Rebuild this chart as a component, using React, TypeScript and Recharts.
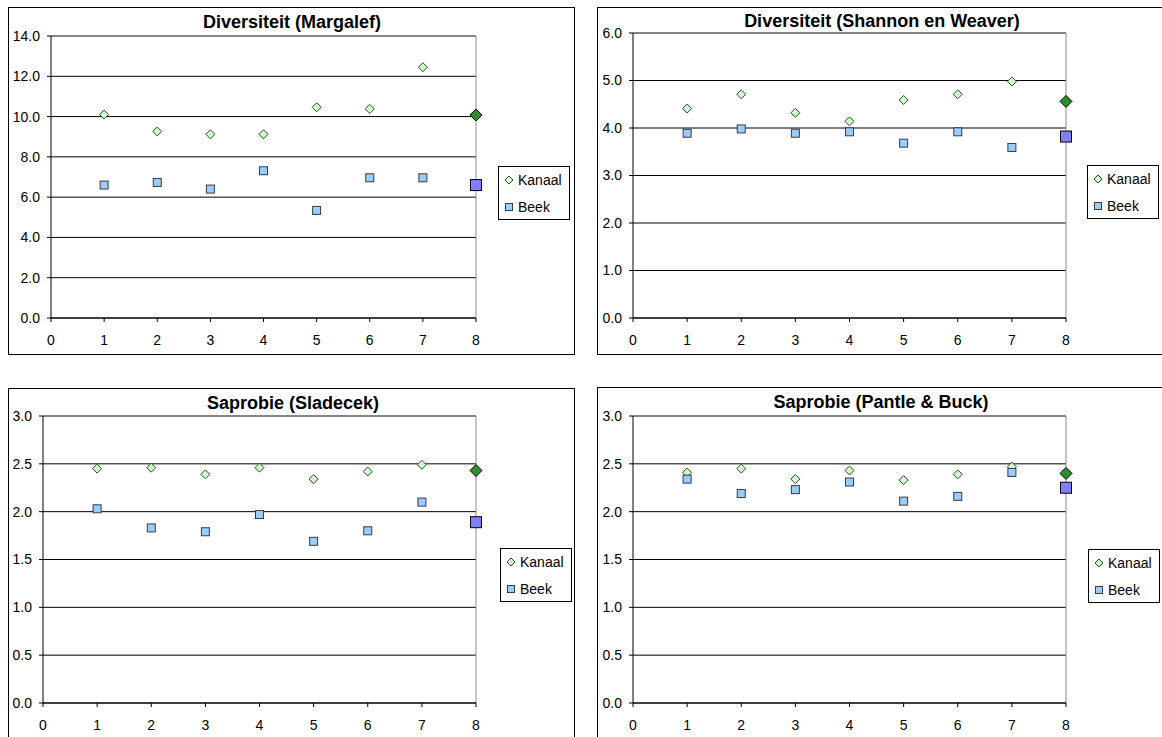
import React from 'react';
import { ScatterChart, Scatter, XAxis, YAxis, CartesianGrid, ReferenceLine, Legend } from 'recharts';

const stations = [1, 2, 3, 4, 5, 6, 7, 8];
const xTicks = [0, 1, 2, 3, 4, 5, 6, 7, 8];
const seriesNames = ['Kanaal', 'Beek'];

const margalefKanaal = [10.1, 9.26, 9.12, 9.12, 10.46, 10.38, 12.45, 10.08];
const margalefBeek = [6.6, 6.73, 6.4, 7.31, 5.34, 6.96, 6.96, 6.6];
const margalefTicks = [0, 2, 4, 6, 8, 10, 12, 14];

const shannonKanaal = [4.41, 4.71, 4.32, 4.14, 4.59, 4.71, 4.98, 4.56];
const shannonBeek = [3.89, 3.98, 3.89, 3.92, 3.68, 3.92, 3.59, 3.82];
const shannonTicks = [0, 1, 2, 3, 4, 5, 6];

const sladecekKanaal = [2.45, 2.46, 2.39, 2.46, 2.34, 2.42, 2.49, 2.43];
const sladecekBeek = [2.03, 1.83, 1.79, 1.97, 1.69, 1.8, 2.1, 1.89];
const saprobieTicks = [0, 0.5, 1, 1.5, 2, 2.5, 3];

const pantleKanaal = [2.41, 2.45, 2.34, 2.43, 2.33, 2.39, 2.47, 2.4];
const pantleBeek = [2.34, 2.19, 2.23, 2.31, 2.11, 2.16, 2.41, 2.25];

const highlightStation = 8;
const FONT = '"Liberation Sans", Arial, sans-serif';

const toPoints = (vals: number[]) => stations.map((s, i) => ({ x: s, y: vals[i] }));

const KanaalShape = (props: any) => {
  const { cx, cy, payload } = props;
  if (cx == null || cy == null) return null;
  const hl = payload && payload.x === highlightStation;
  const r = hl ? 6 : 4.5;
  return (
    <polygon
      points={`${cx},${cy - r} ${cx + r},${cy} ${cx},${cy + r} ${cx - r},${cy}`}
      fill={hl ? '#2F8F2F' : '#CCFFCC'}
      stroke={hl ? '#000' : '#3C3C3C'}
      strokeWidth={1}
    />
  );
};

const BeekShape = (props: any) => {
  const { cx, cy, payload } = props;
  if (cx == null || cy == null) return null;
  const hl = payload && payload.x === highlightStation;
  const s = hl ? 11 : 8;
  return (
    <rect
      x={cx - s / 2}
      y={cy - s / 2}
      width={s}
      height={s}
      fill={hl ? '#7F7FFF' : '#99CCFF'}
      stroke={hl ? '#000' : '#3C3C3C'}
      strokeWidth={1}
    />
  );
};

const LegendBox = () => (
  <div
    style={{
      width: 72,
      height: 54,
      border: '1px solid #000',
      boxSizing: 'border-box',
      background: '#fff',
      fontFamily: FONT,
      fontSize: 14,
      color: '#000',
      position: 'relative',
    }}
  >
    <div style={{ position: 'absolute', left: 4, top: 4, display: 'flex', alignItems: 'center', height: 18 }}>
      <svg width={12} height={12} style={{ marginRight: 3 }}>
        <polygon points="6,2 10,6 6,10 2,6" fill="#CCFFCC" stroke="#3C3C3C" strokeWidth={1} />
      </svg>
      <span>{seriesNames[0]}</span>
    </div>
    <div style={{ position: 'absolute', left: 4, top: 31, display: 'flex', alignItems: 'center', height: 18 }}>
      <svg width={12} height={12} style={{ marginRight: 3 }}>
        <rect x={2.5} y={2.5} width={7} height={7} fill="#99CCFF" stroke="#3C3C3C" strokeWidth={1} />
      </svg>
      <span>{seriesNames[1]}</span>
    </div>
  </div>
);

type PanelProps = {
  title: string;
  kanaal: number[];
  beek: number[];
  yTicks: number[];
  box: { left: number; top: number; width: number; height: number };
  plot: { left: number; right: number; top: number };
  titleCenter: { x: number; y: number };
  legendPos: { left: number; top: number };
};

const Panel = ({ title, kanaal, beek, yTicks, box, plot, titleCenter, legendPos }: PanelProps) => {
  const cw = box.width - 2;
  const ch = box.height - 2;
  const yMax = yTicks[yTicks.length - 1];
  const tickStyle = { fill: '#000', fontSize: 14, fontFamily: FONT };
  return (
    <div
      style={{
        position: 'absolute',
        left: box.left,
        top: box.top,
        width: box.width,
        height: box.height,
        border: '1px solid #000',
        boxSizing: 'border-box',
        background: '#fff',
      }}
    >
      <div
        style={{
          position: 'absolute',
          left: titleCenter.x - box.left - 1 - 200,
          width: 400,
          top: titleCenter.y - box.top - 1 - 11,
          height: 22,
          lineHeight: '22px',
          textAlign: 'center',
          fontFamily: FONT,
          fontWeight: 'bold',
          fontSize: 18,
          color: '#000',
          whiteSpace: 'nowrap',
        }}
      >
        {title}
      </div>
      <ScatterChart
        width={cw}
        height={ch}
        margin={{ top: plot.top, right: cw - plot.right, left: 0, bottom: 6 }}
        style={{ fontFamily: FONT }}
      >
        <CartesianGrid vertical={false} stroke="#000" strokeWidth={1} />
        <XAxis
          type="number"
          dataKey="x"
          domain={[0, 8]}
          ticks={xTicks}
          interval={0}
          height={30}
          stroke="#000"
          tickSize={4}
          tickMargin={13}
          tick={tickStyle}
          allowDecimals={false}
        />
        <YAxis
          type="number"
          dataKey="y"
          domain={[0, yMax]}
          ticks={yTicks}
          interval={0}
          width={plot.left}
          stroke="#000"
          tickSize={4}
          tickMargin={7}
          tick={tickStyle}
          tickFormatter={(v: number) => v.toFixed(1)}
        />
        <ReferenceLine y={yMax} stroke="#8C8C8C" strokeWidth={1} />
        <ReferenceLine x={8} stroke="#8C8C8C" strokeWidth={1} />
        <Legend
          layout="vertical"
          align="center"
          verticalAlign="middle"
          content={() => <LegendBox />}
          wrapperStyle={{ left: legendPos.left - box.left - 1, top: legendPos.top - box.top - 1, width: 72, height: 54 }}
        />
        <Scatter name={seriesNames[0]} data={toPoints(kanaal)} shape={KanaalShape} isAnimationActive={false} />
        <Scatter name={seriesNames[1]} data={toPoints(beek)} shape={BeekShape} isAnimationActive={false} />
      </ScatterChart>
    </div>
  );
};

export default function App() {
  return (
    <div
      style={{
        position: 'absolute',
        left: 0,
        top: 0,
        width: 1162,
        height: 737,
        overflow: 'hidden',
        background: '#fff',
      }}
    >
      <Panel
        title="Diversiteit (Margalef)"
        kanaal={margalefKanaal}
        beek={margalefBeek}
        yTicks={margalefTicks}
        box={{ left: 8, top: 7, width: 567, height: 348 }}
        plot={{ left: 42, right: 467, top: 28 }}
        titleCenter={{ x: 292, y: 22 }}
        legendPos={{ left: 498, top: 166 }}
      />
      <Panel
        title="Diversiteit (Shannon en Weaver)"
        kanaal={shannonKanaal}
        beek={shannonBeek}
        yTicks={shannonTicks}
        box={{ left: 597, top: 7, width: 570, height: 348 }}
        plot={{ left: 35, right: 468, top: 25 }}
        titleCenter={{ x: 882, y: 21 }}
        legendPos={{ left: 1087, top: 165 }}
      />
      <Panel
        title="Saprobie (Sladecek)"
        kanaal={sladecekKanaal}
        beek={sladecekBeek}
        yTicks={saprobieTicks}
        box={{ left: 8, top: 388, width: 567, height: 352 }}
        plot={{ left: 34, right: 467, top: 27 }}
        titleCenter={{ x: 293, y: 403 }}
        legendPos={{ left: 500, top: 548 }}
      />
      <Panel
        title="Saprobie (Pantle & Buck)"
        kanaal={pantleKanaal}
        beek={pantleBeek}
        yTicks={saprobieTicks}
        box={{ left: 597, top: 387, width: 570, height: 353 }}
        plot={{ left: 35, right: 468, top: 28 }}
        titleCenter={{ x: 881, y: 402 }}
        legendPos={{ left: 1088, top: 549 }}
      />
    </div>
  );
}
